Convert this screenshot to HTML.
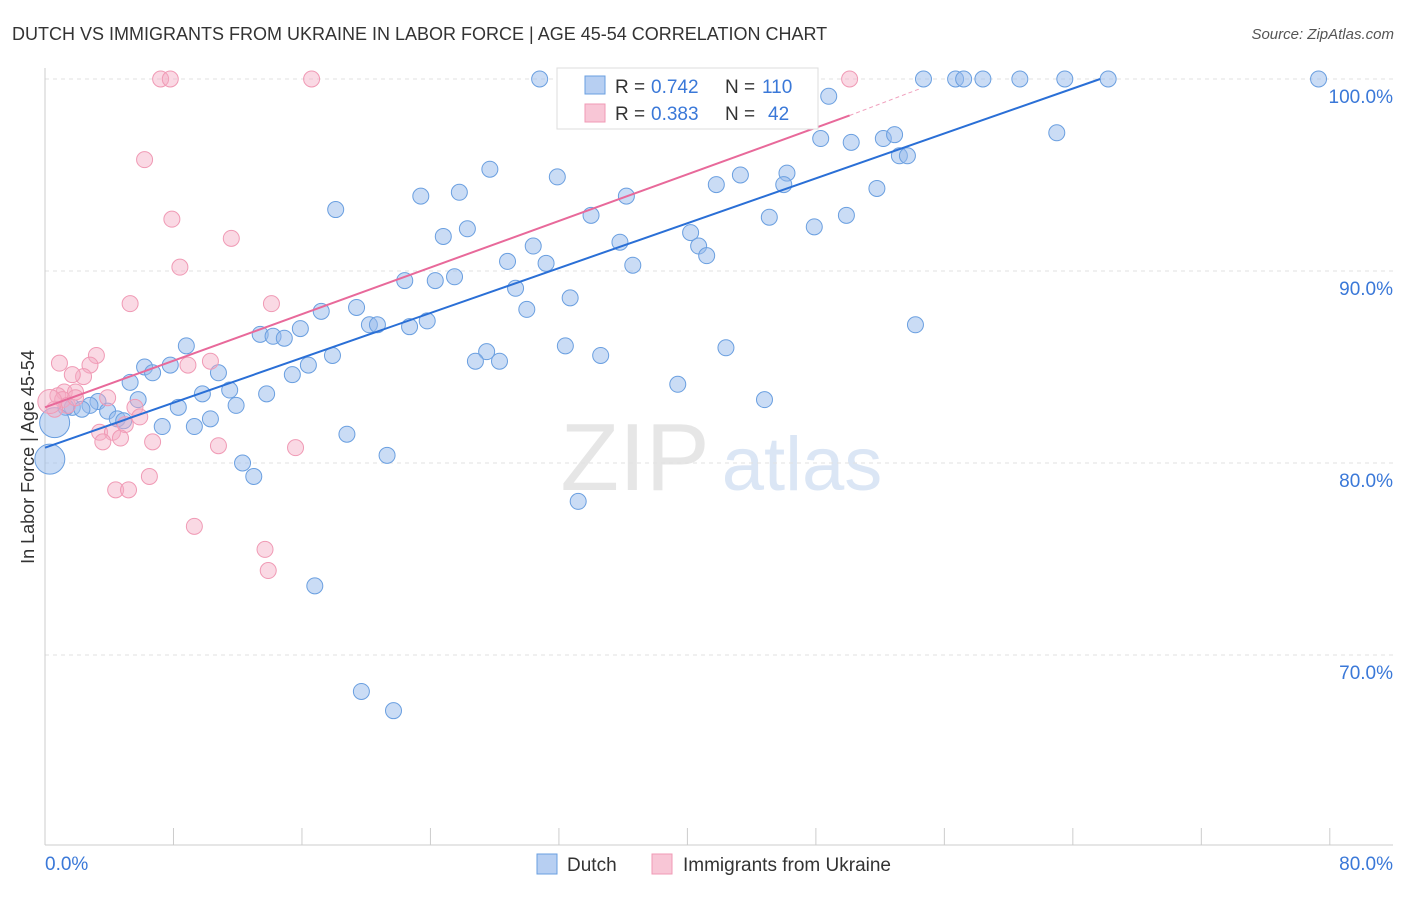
<!DOCTYPE html>
<html><head><meta charset="utf-8"><style>
body{margin:0;background:#fff;font-family:"Liberation Sans",sans-serif}
svg text{font-family:"Liberation Sans",sans-serif}
</style></head><body>
<svg id="c" width="1406" height="892">
<text x="12" y="40" font-size="18" fill="#333">DUTCH VS IMMIGRANTS FROM UKRAINE IN LABOR FORCE | AGE 45-54 CORRELATION CHART</text>
<text x="1394" y="39" font-size="15" fill="#555" text-anchor="end" font-style="italic">Source: ZipAtlas.com</text>
<text transform="translate(34,457) rotate(-90)" font-size="18" fill="#333" text-anchor="middle">In Labor Force | Age 45-54</text>
<g><text x="635" y="490" font-size="96" fill="#e6e6e6" font-family="Liberation Serif" text-anchor="middle">ZIP</text><text x="802" y="490" font-size="76" fill="#dbe6f5" text-anchor="middle">atlas</text></g>
<g id="grid"></g><g id="pts"></g><g id="lines"></g>
<g>
<rect x="557" y="68" width="261" height="61" fill="#fff" stroke="#ddd"/>
<rect x="585" y="76" width="20" height="18" fill="#b7cff2" stroke="#6a9fe0"/>
<rect x="585" y="104" width="20" height="18" fill="#f8c6d6" stroke="#f09ab5"/>
<text x="615" y="93" font-size="19" fill="#333">R =</text><text x="651" y="93" font-size="19" fill="#3a78d8">0.742</text>
<text x="725" y="93" font-size="19" fill="#333">N =</text><text x="762" y="93" font-size="19" fill="#3a78d8">110</text>
<text x="615" y="120" font-size="19" fill="#333">R =</text><text x="651" y="120" font-size="19" fill="#3a78d8">0.383</text>
<text x="725" y="120" font-size="19" fill="#333">N =</text><text x="768" y="120" font-size="19" fill="#3a78d8">42</text>
</g>
<g>
<rect x="537" y="854" width="20" height="20" fill="#b7cff2" stroke="#6a9fe0"/>
<text x="567" y="871" font-size="19" fill="#333">Dutch</text>
<rect x="652" y="854" width="20" height="20" fill="#f8c6d6" stroke="#f09ab5"/>
<text x="683" y="871" font-size="19" fill="#333">Immigrants from Ukraine</text>
</g>
</svg>
<script>
const xTicks=[0,80];
const yTicks=[70,80,90,100];
const blueX=[30.8,34.4,38.8,40.0,43.9,54.7,56.7,57.2,58.4,60.7,63.5,66.2,79.3,48.8,46.8,63.0,48.3,50.2,52.2,52.9,53.2,53.7,27.7,31.9,43.3,46.2,46.0,41.8,51.8,18.1,23.4,25.8,36.2,34.0,45.1,47.9,49.9,24.8,26.3,35.8,40.2,40.7,41.2,30.4,28.8,31.2,36.6,22.4,24.3,25.5,29.3,32.7,17.2,19.4,30.0,20.2,20.7,22.7,23.8,15.9,13.4,14.2,14.9,8.8,32.4,34.6,42.4,54.2,17.9,27.5,26.8,28.3,16.4,15.4,6.2,7.8,6.7,10.8,5.3,9.8,11.5,13.8,39.4,44.8,11.9,8.3,5.8,3.3,2.8,1.7,2.3,1.3,3.9,4.5,4.9,10.3,7.3,9.3,18.8,12.3,13.0,21.3,33.2,16.8,19.7,21.7,0.6,0.3];
const blueY=[100,99.9,100,100,100,100,100,100,100,100,100,100,100,99.1,99.1,97.2,96.9,96.7,96.9,97.1,96.0,96.0,95.3,94.9,95.0,95.1,94.5,94.5,94.3,93.2,93.9,94.1,93.9,92.9,92.8,92.3,92.9,91.8,92.2,91.5,92.0,91.3,90.8,91.3,90.5,90.4,90.3,89.5,89.5,89.7,89.1,88.6,87.9,88.1,88.0,87.2,87.2,87.1,87.4,87.0,86.7,86.6,86.5,86.1,86.1,85.6,86.0,87.2,85.6,85.8,85.3,85.3,85.1,84.6,85.0,85.1,84.7,84.7,84.2,83.6,83.8,83.6,84.1,83.3,83.0,82.9,83.3,83.2,83.0,82.9,82.8,82.9,82.7,82.3,82.2,82.3,81.9,81.9,81.5,80.0,79.3,80.4,78.0,73.6,68.1,67.1,82.1,80.2];
const pinkX=[7.2,7.8,16.6,50.1,6.2,7.9,11.6,8.4,5.3,14.1,3.2,0.9,2.8,10.3,8.9,2.4,1.7,1.2,1.9,0.8,3.9,1.1,1.4,0.6,0.3,5.6,5.9,3.4,4.2,5.0,3.6,4.7,6.7,10.8,15.6,6.5,4.4,5.2,9.3,13.7,13.9,1.9];
const pinkY=[100,100,100,100,95.8,92.7,91.7,90.2,88.3,88.3,85.6,85.2,85.1,85.3,85.1,84.5,84.6,83.7,83.7,83.5,83.4,83.3,83.0,82.8,83.2,82.9,82.4,81.6,81.6,82.0,81.1,81.3,81.1,80.9,80.8,79.3,78.6,78.6,76.7,75.5,74.4,83.4];
const blueLine=[[0,80.8],[65.7,100]];
const pinkLine=[[0,82.9],[50.1,98.1]];
const pinkDash=[[50.1,98.1],[54.5,99.5]];
const X=v=>45+v*16.06, Y=v=>79+(100-v)*19.2;
const NS="http://www.w3.org/2000/svg";
function mk(p,t,a){const e=document.createElementNS(NS,t);for(const k in a)e.setAttribute(k,a[k]);p.appendChild(e);return e;}
const g=document.getElementById('grid');
yTicks.forEach(t=>{const l=mk(g,'line',{x1:45,x2:1393,y1:Y(t),y2:Y(t),stroke:'#e2e2e2','stroke-dasharray':'4,4'});


const tx=mk(g,'text',{x:1393,y:Y(t)+24,'font-size':19,fill:'#3a78d8','text-anchor':'end'});tx.textContent=t.toFixed(1)+'%';

});
mk(g,'line',{x1:45,x2:45,y1:68,y2:845,stroke:'#ccc'});
mk(g,'line',{x1:45,x2:1393,y1:845,y2:845,stroke:'#ccc'});
for(let i=0;i<=10;i++){mk(g,'line',{x1:X(i*8),x2:X(i*8),y1:828,y2:845,stroke:'#ccc'});}
xTicks.forEach((t,i)=>{const tx=mk(g,'text',{x:i?1393:45,y:870,'font-size':19,fill:'#3a78d8','text-anchor':i?'end':'start'});tx.textContent=t.toFixed(1)+'%';

});
const P=document.getElementById('pts');
blueX.forEach((x,i)=>{const big=(i>=blueX.length-2);const c=mk(P,'circle',{cx:X(x),cy:Y(blueY[i]),r:big?15:8,fill:'rgba(150,185,235,0.5)',stroke:'#6a9fe0','stroke-width':1});

});
pinkX.forEach((x,i)=>{const big=(i==24);const c=mk(P,'circle',{cx:X(x),cy:Y(pinkY[i]),r:big?12:8,fill:'rgba(245,170,195,0.45)',stroke:'#f09ab5','stroke-width':1});

});
const L=document.getElementById('lines');
const bl=mk(L,'line',{x1:X(blueLine[0][0]),y1:Y(blueLine[0][1]),x2:X(blueLine[1][0]),y2:Y(blueLine[1][1]),stroke:'#2a6fd6','stroke-width':2});


const pl=mk(L,'line',{x1:X(pinkLine[0][0]),y1:Y(pinkLine[0][1]),x2:X(pinkLine[1][0]),y2:Y(pinkLine[1][1]),stroke:'#e8699a','stroke-width':2});


const pd=mk(L,'line',{x1:X(pinkDash[0][0]),y1:Y(pinkDash[0][1]),x2:X(pinkDash[1][0]),y2:Y(pinkDash[1][1]),stroke:'#f0a0bd','stroke-width':1,'stroke-dasharray':'4,3'});


</script>
</body></html>
